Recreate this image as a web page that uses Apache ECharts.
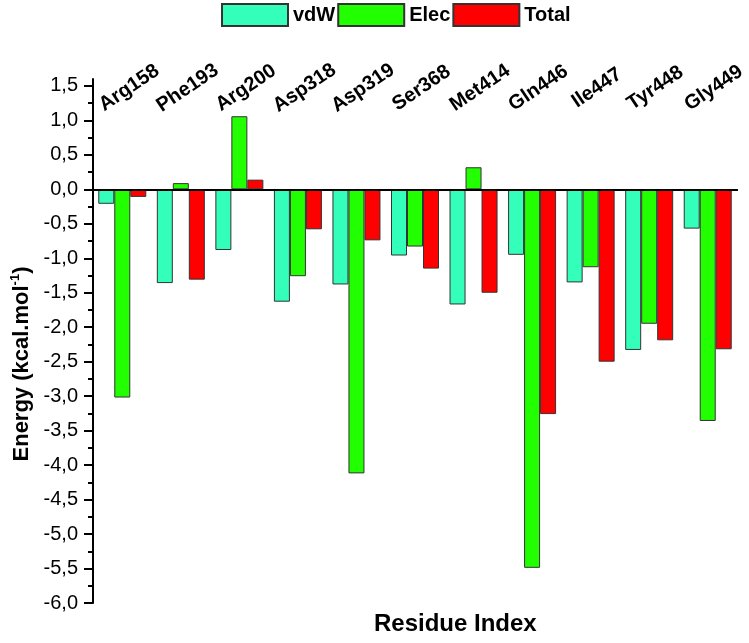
<!DOCTYPE html>
<html>
<head>
<meta charset="utf-8">
<script src="https://cdn.jsdelivr.net/npm/echarts@6/dist/echarts.min.js"></script>
<style>html,body{margin:0;padding:0;background:#fff}#c{width:749px;height:643px}</style>
</head>
<body>
<div id="c"></div>
<script>
var categories = ['Arg158','Phe193','Arg200','Asp318','Asp319','Ser368','Met414','Gln446','Ile447','Tyr448','Gly449'];
var vdW   = [-0.21, -1.36, -0.88, -1.63, -1.38, -0.96, -1.67, -0.95, -1.35, -2.33, -0.57];
var elec  = [-3.02,  0.09,  1.06, -1.26, -4.12, -0.83,  0.32, -5.49, -1.13, -1.95, -3.36];
var total = [-0.11, -1.31,  0.14, -0.58, -0.74, -1.15, -1.50, -3.26, -2.50, -2.19, -2.32];
var yTicks = [-6,-5.5,-5,-4.5,-4,-3.5,-3,-2.5,-2,-1.5,-1,-0.5,0,0.5,1,1.5];

var FF = 'Liberation Sans, Arial, sans-serif';
var chart = echarts.init(document.getElementById('c'), null, {renderer:'canvas'});
function fmt(v){ return v.toFixed(1).replace('.', ','); }
var border = {borderColor:'#333', borderWidth:1};
chart.setOption({
  animation:false,
  backgroundColor:'#fff',
  textStyle:{fontFamily:FF},
  title:{text:'Residue Index', left:374, top:612, padding:0,
    textStyle:{fontFamily:FF, fontSize:24, fontWeight:'bold', color:'#000'}},
  legend:{left:221, top:3, padding:0, itemWidth:66, itemHeight:22, itemGap:2, icon:'rect',
    textStyle:{fontFamily:FF, fontSize:20, fontWeight:'bold', color:'#000'},
    data:['vdW','Elec','Total']},
  grid:[
    {left:93, right:12, top:79, bottom:40, containLabel:false},
    {left:100, right:5, top:79, bottom:40, containLabel:false},
    {left:93, right:12, top:79, bottom:40, containLabel:false}
  ],
  xAxis:[
    {type:'category', gridIndex:0, data:categories, position:'bottom', z:10,
     axisLine:{onZero:true, lineStyle:{color:'#000', width:2}},
     axisTick:{alignWithLabel:true, length:11, lineStyle:{color:'#000', width:2}},
     axisLabel:{show:false}, splitLine:{show:false}},
    {type:'category', gridIndex:1, data:categories, position:'top',
     axisLine:{show:false, onZero:false}, axisTick:{show:false},
     axisLabel:{inside:true, margin:9, rotate:-34, align:'center', verticalAlign:'middle',
       fontFamily:FF, fontSize:20, fontWeight:'bold', color:'#000', interval:0}},
    {type:'category', gridIndex:2, data:categories, position:'bottom', z:10,
     axisLine:{onZero:true, lineStyle:{color:'#000', width:2}},
     axisTick:{alignWithLabel:false, length:6, lineStyle:{color:'#000', width:2}},
     axisLabel:{show:false}, splitLine:{show:false}}
  ],
  yAxis:[
    {type:'value', gridIndex:0, min:-6, max:1.6, interval:0.5,
     name:'{b|Energy (kcal.mol}{s|-1}{b|)}', nameLocation:'middle', nameGap:54, nameRotate:90,
     nameTextStyle:{padding:[0,46,0,0], rich:{
       b:{fontFamily:FF, fontSize:22, fontWeight:'bold', color:'#000', lineHeight:26},
       s:{fontFamily:FF, fontSize:13, fontWeight:'bold', color:'#000', lineHeight:26, verticalAlign:'top'}}},
     axisLine:{show:true, onZero:false, lineStyle:{color:'#000', width:2}},
     axisTick:{show:true, length:9, customValues:yTicks, lineStyle:{color:'#000', width:2}},
     minorTick:{show:true, splitNumber:2, length:5, lineStyle:{color:'#000', width:2}},
     axisLabel:{customValues:yTicks, margin:15, fontFamily:FF, fontSize:20, color:'#000', formatter:fmt},
     splitLine:{show:false}},
    {type:'value', gridIndex:1, show:false},
    {type:'value', gridIndex:2, min:-6, max:1.6, show:false}
  ],
  series:[
    {name:'vdW', type:'bar', xAxisIndex:0, yAxisIndex:0, data:vdW, barWidth:16, barGap:'0%',
     itemStyle:Object.assign({color:'#33FFBB'}, border)},
    {name:'Elec', type:'bar', xAxisIndex:0, yAxisIndex:0, data:elec, barWidth:16, barGap:'0%',
     itemStyle:Object.assign({color:'#22FF00'}, border)},
    {name:'Total', type:'bar', xAxisIndex:0, yAxisIndex:0, data:total, barWidth:16, barGap:'0%',
     itemStyle:Object.assign({color:'#FF0000'}, border)}
  ]
});
</script>
</body>
</html>
